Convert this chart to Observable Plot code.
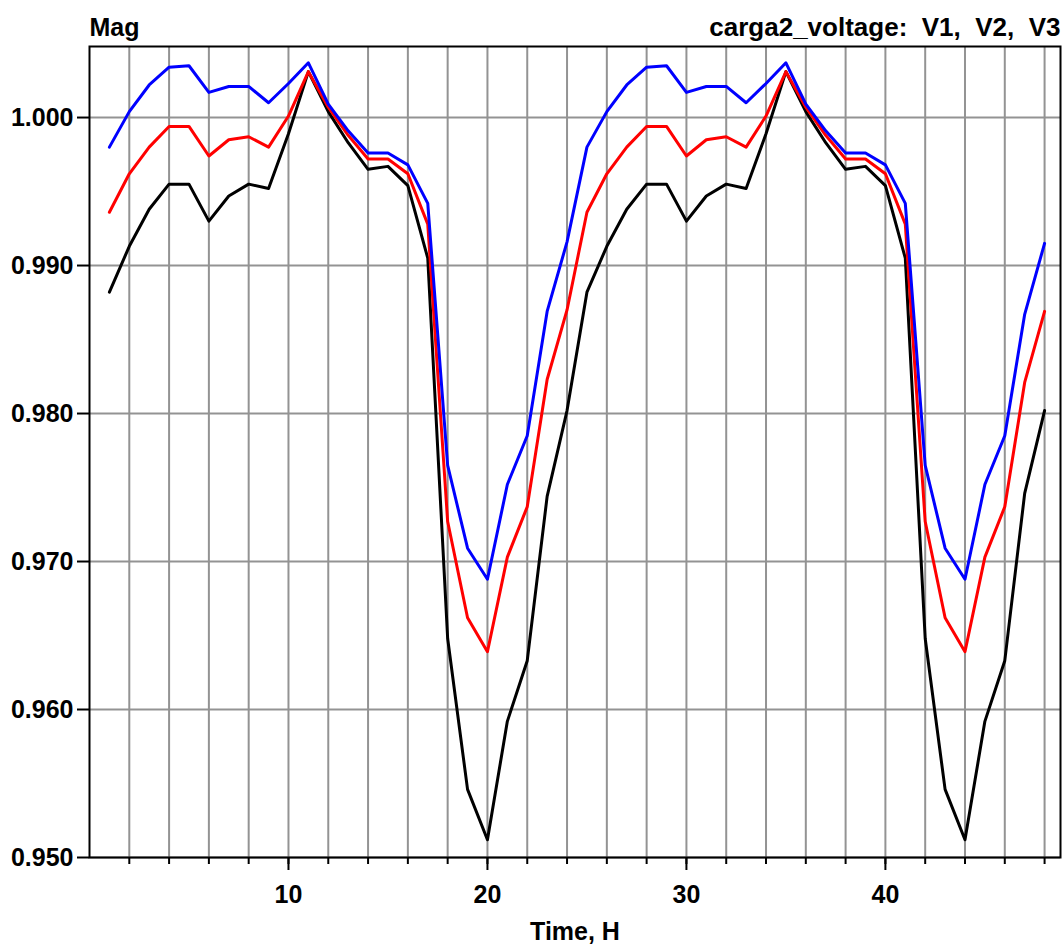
<!DOCTYPE html>
<html>
<head>
<meta charset="utf-8">
<script src="https://cdn.jsdelivr.net/npm/d3@7"></script>
<script src="https://cdn.jsdelivr.net/npm/@observablehq/plot@0.6"></script>
<style>
  html, body { margin: 0; padding: 0; background: #fff; }
  svg text { white-space: pre; }
</style>
</head>
<body>
<div id="chart"></div>
<script>
// ---- data ----
const hours = d3.range(1, 49);
const seriesNames = ["V1", "V2", "V3"];
const seriesColors = ["#000000", "#ff0000", "#0000ff"];

const v1 = [ // black
  0.9882, 0.9913, 0.9938, 0.9955, 0.9955, 0.9930, 0.9947, 0.9955, 0.9952, 0.9989, 1.0031, 1.0004,
  0.9983, 0.9965, 0.9967, 0.9954, 0.9905, 0.9648, 0.9546, 0.9512, 0.9592, 0.9633, 0.9744, 0.9802,
  0.9882, 0.9913, 0.9938, 0.9955, 0.9955, 0.9930, 0.9947, 0.9955, 0.9952, 0.9989, 1.0031, 1.0004,
  0.9983, 0.9965, 0.9967, 0.9954, 0.9905, 0.9648, 0.9546, 0.9512, 0.9592, 0.9633, 0.9746, 0.9802
];
const v2 = [ // red
  0.9936, 0.9962, 0.9980, 0.9994, 0.9994, 0.9974, 0.9985, 0.9987, 0.9980, 1.0001, 1.0031, 1.0007,
  0.9988, 0.9972, 0.9972, 0.9962, 0.9928, 0.9727, 0.9662, 0.9639, 0.9703, 0.9737, 0.9823, 0.9870,
  0.9936, 0.9962, 0.9980, 0.9994, 0.9994, 0.9974, 0.9985, 0.9987, 0.9980, 1.0001, 1.0031, 1.0007,
  0.9988, 0.9972, 0.9972, 0.9962, 0.9928, 0.9727, 0.9662, 0.9639, 0.9703, 0.9737, 0.9821, 0.9869
];
const v3 = [ // blue
  0.9980, 1.0004, 1.0022, 1.0034, 1.0035, 1.0017, 1.0021, 1.0021, 1.0010, 1.0023, 1.0037, 1.0009,
  0.9991, 0.9976, 0.9976, 0.9968, 0.9942, 0.9765, 0.9709, 0.9688, 0.9752, 0.9785, 0.9869, 0.9916,
  0.9980, 1.0004, 1.0022, 1.0034, 1.0035, 1.0017, 1.0021, 1.0021, 1.0010, 1.0023, 1.0037, 1.0009,
  0.9991, 0.9976, 0.9976, 0.9968, 0.9942, 0.9765, 0.9709, 0.9688, 0.9752, 0.9785, 0.9867, 0.9915
];

const yTicks = [0.95, 0.96, 0.97, 0.98, 0.99, 1.00];
const xGridTicks = d3.range(2, 49, 2);
const xLabelTicks = [10, 20, 30, 40];
const yLabel = "Mag";
const xLabel = "Time, H";
const title = "carga2_voltage:\u00a0 V1,\u00a0 V2,\u00a0 V3";

// ---- table for Plot ----
const values = [v1, v2, v3];
const data = [];
seriesNames.forEach((name, i) => {
  hours.forEach((h, j) => data.push({series: name, hour: h, value: values[i][j]}));
});

const gridStyle = {stroke: "#939393", strokeOpacity: 1, strokeWidth: 2};

const chart = Plot.plot({
  width: 1063,
  height: 946,
  marginLeft: 89,
  marginRight: 3,
  marginTop: 46,
  marginBottom: 89,
  x: {domain: [0, 48.8]},
  y: {domain: [0.95, 1.0048]},
  color: {domain: seriesNames, range: seriesColors},
  style: {
    fontFamily: "'Liberation Sans', Arial, sans-serif",
    fontSize: "25px",
    fontWeight: "bold",
    background: "#ffffff",
    color: "#000000"
  },
  marks: [
    Plot.gridY(yTicks, gridStyle),
    Plot.gridX(xGridTicks, gridStyle),
    Plot.line(data, {x: "hour", y: "value", z: "series", stroke: "series", strokeWidth: 3}),
    Plot.frame({stroke: "#000", strokeWidth: 2}),
    Plot.axisY(yTicks, {tickSize: 12, tickPadding: 4, tickFormat: d3.format(".3f"), strokeWidth: 2, label: null}),
    Plot.axisX(xGridTicks, {tickSize: 7, tickFormat: () => "", strokeWidth: 2, label: null}),
    Plot.axisX(xLabelTicks, {tickSize: 13, tickPadding: 15, strokeWidth: 2, label: null}),
    Plot.text([yLabel], {frameAnchor: "top-left", textAnchor: "start", lineAnchor: "middle", dy: -18.5, fill: "#000"}),
    Plot.text([title], {frameAnchor: "top-right", textAnchor: "end", lineAnchor: "middle", dy: -18.5, fill: "#000", fontSize: 26}),
    Plot.text([xLabel], {frameAnchor: "bottom", lineAnchor: "middle", dy: 74, fill: "#000"})
  ]
});
document.getElementById("chart").appendChild(chart);
</script>
</body>
</html>
